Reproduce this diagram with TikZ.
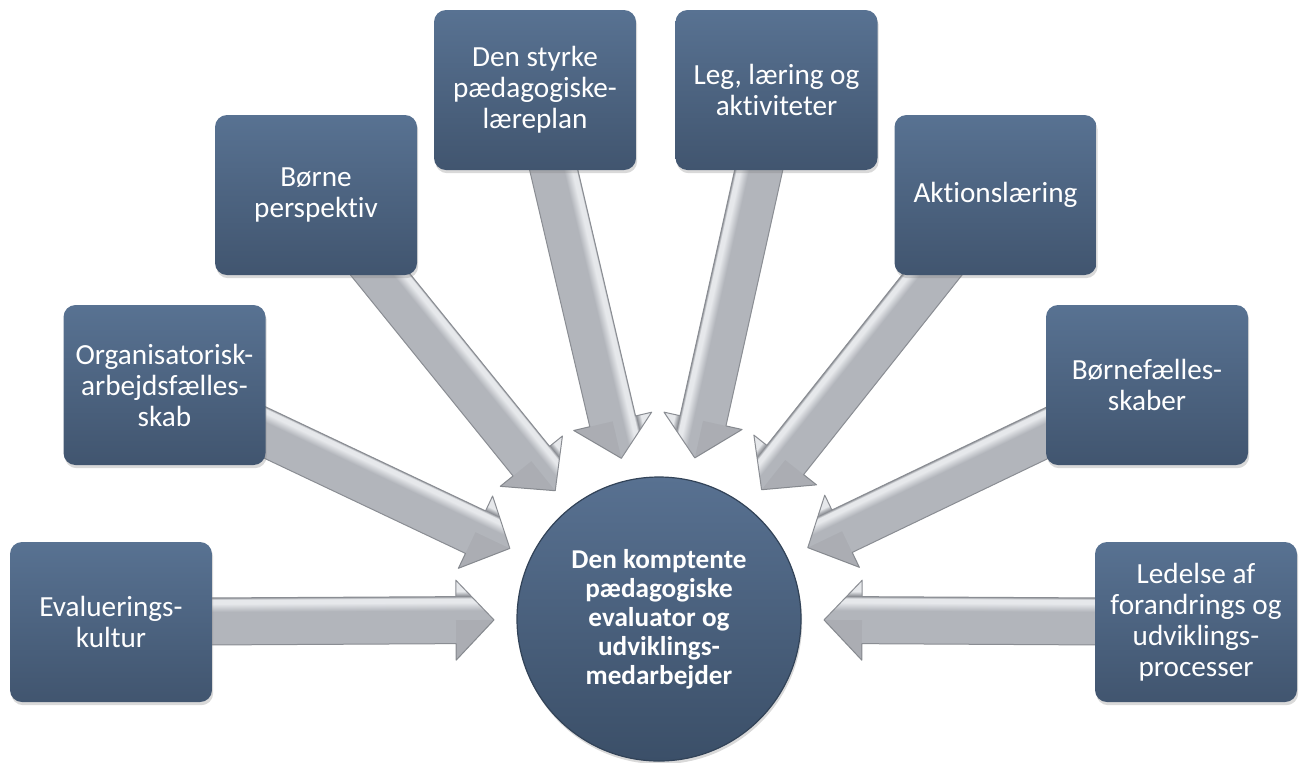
\documentclass[tikz,border=0pt]{standalone}
\usepackage{fontspec}
\setmainfont{Carlito}[Ligatures=NoCommon]
\usetikzlibrary{calc,shadows,backgrounds}
\definecolor{tiletop}{HTML}{587292}
\definecolor{tilebot}{HTML}{41556F}
\definecolor{hubtop}{HTML}{587191}
\definecolor{hubbot}{HTML}{3B4F68}
\definecolor{agdark}{HTML}{8A8D93}
\definecolor{agmid}{HTML}{B2B5BB}
\definecolor{aglight}{HTML}{E6E8EB}
\pgfdeclareverticalshading{arrowgrad}{100bp}{color(0bp)=(agdark); color(25bp)=(agmid); color(36bp)=(agmid); color(56bp)=(agmid); color(61bp)=(aglight); color(63.5bp)=(aglight); color(65bp)=(agdark); color(68bp)=(aglight); color(100bp)=(aglight)}
\newcommand{\feed}[2]{%
  \pgfmathanglebetweenpoints{\pgfpointanchor{#1}{center}}{\pgfpointanchor{#2}{center}}%
  \let\fang\pgfmathresult
  \pgfpointdiff{\pgfpointanchor{#1}{center}}{\pgfpointanchor{#2}{center}}%
  \pgfgetlastxy{\fdx}{\fdy}%
  \pgfmathsetmacro{\flen}{veclen(\fdx,\fdy)-82.5}%
  \pgfmathsetmacro{\fbase}{\flen-19}%
  \pgfmathsetmacro{\fflip}{(\fang>90 && \fang<270) ? -1 : 1}%
  \begin{scope}[transform canvas={shift={(#1.center)},rotate=\fang,yscale=\fflip}]
    \shade[shading=arrowgrad,draw=agdark,line width=0.5pt,line join=round]
      (0pt,-11.75pt) -- (\fbase pt,-11.75pt) -- (\fbase pt,-20pt) -- (\flen pt,0pt)
      -- (\fbase pt,20pt) -- (\fbase pt,11.75pt) -- (0pt,11.75pt) -- cycle;
    \fill[black,opacity=0.04] (\fbase pt,-20pt) -- (\flen pt,0pt) -- (\fbase pt,0pt) -- cycle;
  \end{scope}}

\begin{document}
\begin{tikzpicture}[x=0.5pt,y=-0.5pt,
    tile/.style={rounded corners=6pt,minimum width=101pt,minimum height=80pt,
      inner sep=0pt,align=center,text=white,
      top color=tiletop,bottom color=tilebot,
      drop shadow={shadow xshift=0.6pt,shadow yshift=-1.6pt,opacity=0.3},
      font=\fontsize{14.6}{15.5}\selectfont},
    hub/.style={circle,minimum size=142pt,inner sep=0pt,
      align=center,text=white,top color=hubtop,bottom color=hubbot,
      draw=hubbot!85!black,line width=0.6pt,
      drop shadow={shadow xshift=0.6pt,shadow yshift=-1.6pt,opacity=0.3},
      font=\bfseries\fontsize{13.6}{14.5}\selectfont}]
  \useasboundingbox (0,0) rectangle (1305,762);
  \node[hub] (h) at (659,619) {Den komptente\\pædagogiske\\evaluator og\\udviklings-\\medarbejder};
  \node[tile] (b1) at (111,622) {Evaluerings-\\kultur};
  \node[tile] (b2) at (164.5,385) {Organisatorisk-\\arbejdsfælles-\\skab};
  \node[tile] (b3) at (316,195) {Børne\\perspektiv};
  \node[tile] (b4) at (535,90) {Den styrke\\pædagogiske-\\læreplan};
  \node[tile] (b5) at (776.5,90) {Leg, læring og\\aktiviteter};
  \node[tile] (b6) at (995.5,195) {Aktionslæring};
  \node[tile] (b7) at (1147,385) {Børnefælles-\\skaber};
  \node[tile] (b8) at (1196,622) {Ledelse af\\forandrings og\\udviklings-\\processer};
  \begin{pgfonlayer}{background}
    \foreach \b in {b1,b2,b3,b4,b5,b6,b7,b8}
      {\feed{\b}{h}}
  \end{pgfonlayer}
\end{tikzpicture}
\end{document}
